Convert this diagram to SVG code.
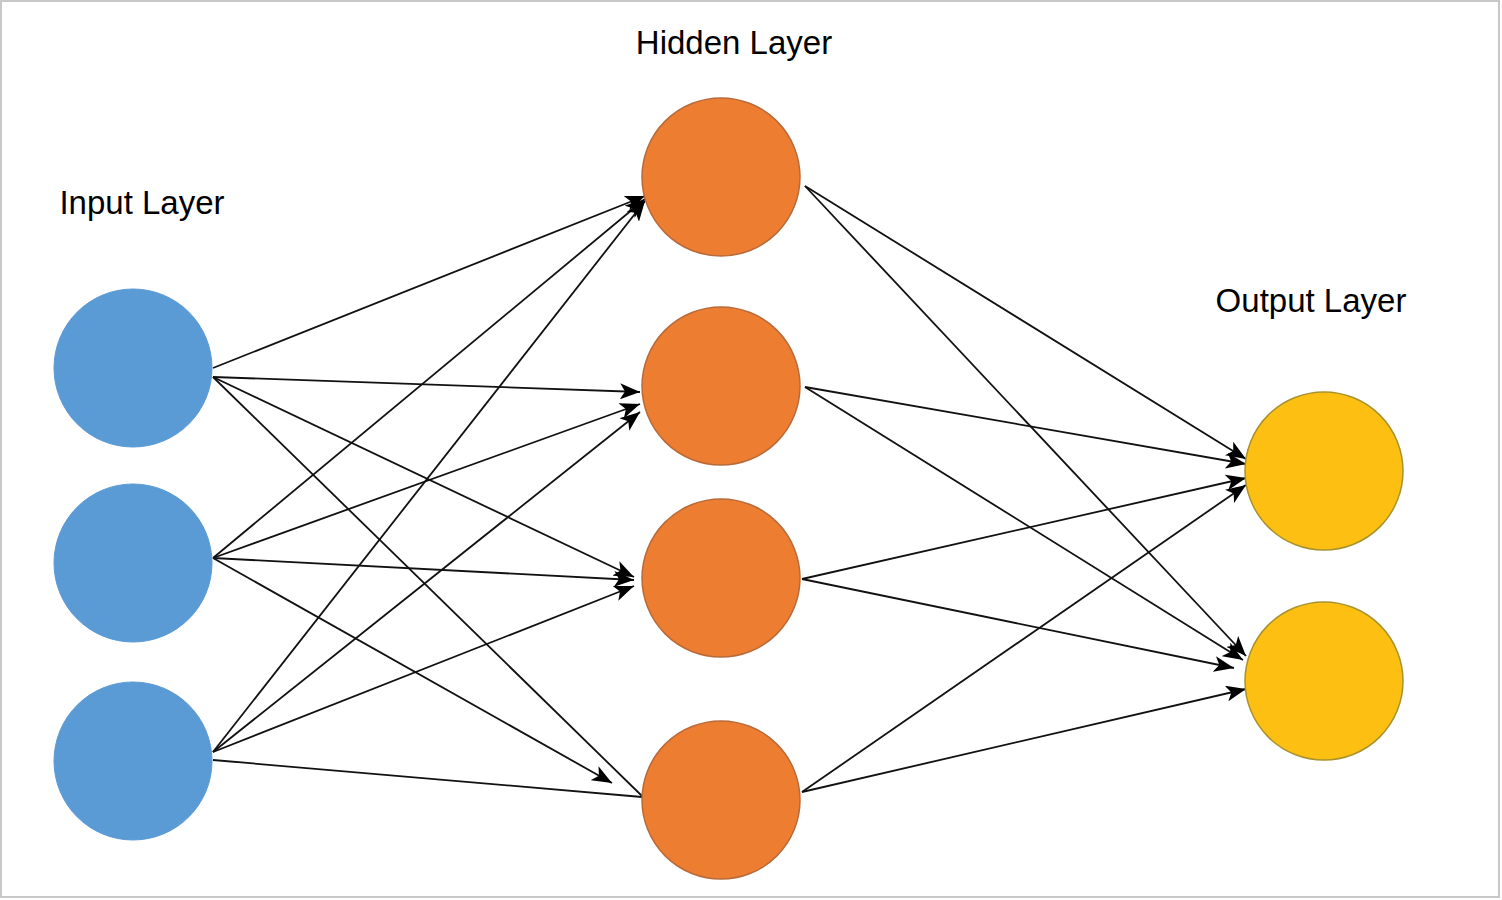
<svg xmlns="http://www.w3.org/2000/svg" width="1502" height="900" viewBox="0 0 1502 900">
<style>
.lbl{font-family:"Liberation Sans",Arial,sans-serif;font-size:33px;fill:#000}
.in{fill:#5B9BD5;stroke:#5B9BD5;stroke-width:1}
.hid{fill:#ED7D31;stroke:#B86A3A;stroke-width:1.5}
.out{fill:#FCBF12;stroke:#A8922E;stroke-width:1.5}
.c{stroke:#111;stroke-width:1.8;fill:none}
.a{marker-end:url(#arr)}
</style>
<defs>
<marker id="arr" markerUnits="userSpaceOnUse" markerWidth="22" markerHeight="16" refX="20" refY="8" orient="auto">
<path d="M0,0 L20,8 L0,16 L5,8 Z" fill="#000"/>
</marker>
</defs>
<rect x="1" y="1" width="1498" height="896" fill="#fff" stroke="#c8c8c8" stroke-width="2"/>
<text class="lbl" x="734" y="54" text-anchor="middle">Hidden Layer</text>
<text class="lbl" x="142" y="214" text-anchor="middle">Input Layer</text>
<text class="lbl" x="1311" y="312" text-anchor="middle">Output Layer</text>
<g id="connectors">
<line class="c a" x1="213" y1="368" x2="645" y2="196"/>
<line class="c a" x1="213" y1="377" x2="640" y2="392"/>
<line class="c a" x1="213" y1="377" x2="634" y2="577"/>
<line class="c" x1="213" y1="377" x2="642" y2="796"/>
<line class="c a" x1="213" y1="558" x2="645" y2="199"/>
<line class="c a" x1="213" y1="558" x2="640" y2="404"/>
<line class="c a" x1="213" y1="558" x2="634" y2="580"/>
<line class="c a" x1="213" y1="558" x2="612" y2="783"/>
<line class="c a" x1="213" y1="752" x2="645" y2="201"/>
<line class="c a" x1="213" y1="752" x2="640" y2="412"/>
<line class="c a" x1="213" y1="752" x2="634" y2="586"/>
<line class="c" x1="213" y1="760" x2="642" y2="797"/>
<line class="c a" x1="805" y1="186" x2="1246" y2="459"/>
<line class="c a" x1="805" y1="186" x2="1246" y2="656"/>
<line class="c a" x1="805" y1="387" x2="1246" y2="464"/>
<line class="c a" x1="805" y1="387" x2="1243" y2="660"/>
<line class="c a" x1="802" y1="579" x2="1246" y2="478"/>
<line class="c a" x1="802" y1="579" x2="1234" y2="668"/>
<line class="c a" x1="802" y1="792" x2="1246" y2="485"/>
<line class="c a" x1="802" y1="792" x2="1246" y2="689"/>
</g>
<g id="input1"><circle class="in" cx="133" cy="368" r="79"/></g>
<g id="input2"><circle class="in" cx="133" cy="563" r="79"/></g>
<g id="input3"><circle class="in" cx="133" cy="761" r="79"/></g>
<g id="hidden1"><circle class="hid" cx="721" cy="177" r="79"/></g>
<g id="hidden2"><circle class="hid" cx="721" cy="386" r="79"/></g>
<g id="hidden3"><circle class="hid" cx="721" cy="578" r="79"/></g>
<g id="hidden4"><circle class="hid" cx="721" cy="800" r="79"/></g>
<g id="output1"><circle class="out" cx="1324" cy="471" r="79"/></g>
<g id="output2"><circle class="out" cx="1324" cy="681" r="79"/></g>
</svg>
